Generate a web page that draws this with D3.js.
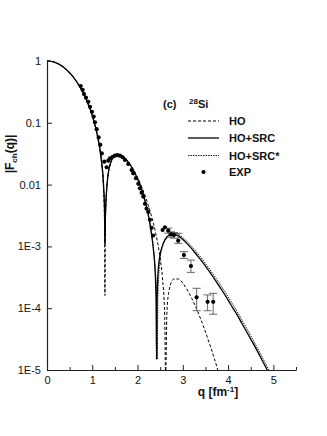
<!DOCTYPE html>
<html><head><meta charset="utf-8">
<script src="https://cdn.jsdelivr.net/npm/d3@7"></script>
<style>
body{margin:0;background:#fff}
svg{display:block}
text{font-family:"Liberation Sans",Arial,Helvetica,sans-serif;fill:#111}
</style></head>
<body><svg id="chart" width="327" height="436"></svg>
<script>
// ---- data ----
const qHO = [0,0.1,0.2,0.3,0.4,0.5,0.6,0.7,0.8,0.9,1.0,1.1,1.15,1.2,1.25,1.27,1.28,1.29,1.3,1.35,1.4,1.5,1.6,1.7,1.8,1.9,2.0,2.1,2.2,2.3,2.4,2.5,2.55,2.6,2.62,2.65,2.7,2.8,2.9,3.0,3.1,3.2,3.3,3.4,3.5,3.6,3.7,3.8];
const fHO = [1,0.983,0.9335,0.8558,0.7563,0.643,0.524,0.4075,0.2997,0.2056,0.1281,0.0678,0.0441,0.02428,0.00816,0.00267,0.00016,0.00229,0.00459,0.01432,0.0214,0.02907,0.0304,0.02782,0.02323,0.01802,0.01309,0.00889,0.00562,0.00324,0.00164,0.000639,0.000312,0.0000751,0.000008,0.0000903,0.000199,0.000296,0.000297,0.000254,0.000197,0.000143,0.0000988,0.0000651,0.0000413,0.0000252,0.000015,0.0000086];

const qSRC = [0,0.1,0.2,0.3,0.4,0.5,0.6,0.7,0.8,0.9,1.0,1.1,1.15,1.2,1.25,1.27,1.28,1.29,1.3,1.35,1.4,1.5,1.6,1.7,1.8,1.9,2.0,2.1,2.2,2.25,2.3,2.35,2.38,2.4,2.41,2.42,2.43,2.45,2.5,2.55,2.6,2.65,2.7,2.75,2.8,2.85,2.9,3.0,3.1,3.2,3.3,3.4,3.5,3.6,3.7,3.8,3.9,4.0,4.1,4.2,4.3,4.4,4.5,4.6,4.7,4.8,4.9];
const fSRC = [1,0.983,0.934,0.857,0.758,0.645,0.527,0.411,0.303,0.209,0.131,0.07,0.0458,0.0256,0.0095,0.004,0.0011,0.003,0.0048,0.0147,0.0218,0.0292,0.0303,0.0276,0.0228,0.0174,0.0123,0.0079,0.0043,0.0029,0.00175,0.0009,0.0005,0.00025,0.00012,0.000015,0.00012,0.00035,0.00075,0.00102,0.00125,0.0014,0.00152,0.00158,0.00158,0.00154,0.00148,0.00129,0.0011,0.00091,0.00074,0.0006,0.00048,0.00038,0.000295,0.00023,0.000178,0.000135,0.000102,0.000078,0.0000575,0.0000427,0.0000316,0.0000234,0.000017,0.0000123,0.0000089];

const qSRCs = [0,0.1,0.2,0.3,0.4,0.5,0.6,0.7,0.8,0.9,1.0,1.1,1.15,1.2,1.25,1.27,1.28,1.29,1.3,1.35,1.4,1.5,1.6,1.7,1.8,1.9,2.0,2.1,2.2,2.3,2.35,2.38,2.4,2.42,2.435,2.45,2.5,2.55,2.6,2.65,2.7,2.75,2.8,2.85,2.9,3.0,3.1,3.2,3.3,3.4,3.5,3.6,3.7,3.8,3.9,4.0,4.1,4.2,4.3,4.4,4.5,4.6,4.7,4.8,4.9,4.95];
const fSRCs = [1,0.983,0.934,0.857,0.758,0.645,0.527,0.411,0.303,0.209,0.131,0.07,0.0458,0.0256,0.0095,0.004,0.0011,0.003,0.0048,0.0147,0.0218,0.0292,0.0304,0.0278,0.0231,0.0177,0.0126,0.0082,0.0045,0.00178,0.00095,0.00057,0.00034,0.00015,0.000015,0.00016,0.00064,0.001,0.00127,0.00147,0.0016,0.00166,0.00167,0.00164,0.00158,0.00139,0.00119,0.00099,0.00081,0.00066,0.00053,0.00042,0.00033,0.000258,0.0002,0.000153,0.000116,0.000088,0.0000655,0.0000485,0.0000358,0.0000264,0.0000192,0.0000139,0.00001,0.0000085];

const expQ = [0.744,0.788,0.817,0.861,0.912,0.949,0.993,1.031,1.06,1.097,1.141,1.177,1.21,1.265,1.318,1.354,1.391,1.45,1.501,1.553,1.611,1.67,1.722,1.795,1.869,1.906,1.965,2.017,2.053,2.09,2.127,2.163,2.2,2.237,2.274,2.311,2.347,2.554,2.605,2.678,2.737,2.804,2.898,3.024,3.179,3.305,3.547,3.671];
const expF = [0.394,0.34,0.292,0.255,0.219,0.182,0.151,0.126,0.102,0.079,0.058,0.044,0.032,0.0235,0.0191,0.0244,0.0266,0.0282,0.0294,0.030,0.0294,0.0277,0.025,0.0216,0.0172,0.0152,0.0127,0.0103,0.0087,0.0074,0.0064,0.0049,0.0041,0.0036,0.0027,0.002,0.0015,0.00184,0.00204,0.0018,0.00157,0.00153,0.00124,0.000726,0.000482,0.00015,0.000127,0.000127];
const errQ  = [2.678,2.737,2.804,2.898,3.024,3.179,3.305,3.547,3.671];
const errLo = [0.00164,0.00141,0.00136,0.00112,0.00064,0.00038,0.000091,0.000091,0.00008];
const errHi = [0.00197,0.00172,0.00168,0.00163,0.00082,0.0006,0.00021,0.000164,0.000174];

const xTicks = [0,0.5,1,1.5,2,2.5,3,3.5,4,4.5,5,5.5];
const yTicks = [1,0.1,0.01,1e-3,1e-4,1e-5];
const yTickLabels = ["1","0.1","0.01","1E-3","1E-4","1E-5"];
const legendNames = ["HO","HO+SRC","HO+SRC*","EXP"];

// ---- drawing ----
const svg = d3.select("#chart");
const L = 47, R = 296, T = 61, B = 370;
const x = d3.scaleLinear().domain([0,5.5]).range([L,R]);
const y = d3.scaleLog().domain([1e-5,1]).range([B,T]);

svg.append("defs").append("clipPath").attr("id","clip")
  .append("rect").attr("x",L).attr("y",T-2).attr("width",R-L+2).attr("height",B-T+2);

const line = d3.line().x(d=>x(d[0])).y(d=>y(d[1])).curve(d3.curveMonotoneX);
const plot = svg.append("g").attr("clip-path","url(#clip)");

plot.append("path").datum(d3.zip(qHO,fHO)).attr("d",line)
  .attr("fill","none").attr("stroke","#000").attr("stroke-width",1).attr("stroke-dasharray","3,2");
plot.append("path").datum(d3.zip(qSRCs,fSRCs)).attr("d",line)
  .attr("fill","none").attr("stroke","#000").attr("stroke-width",0.9).attr("stroke-dasharray","1.5,1");
plot.append("path").datum(d3.zip(qSRC,fSRC)).attr("d",line)
  .attr("fill","none").attr("stroke","#000").attr("stroke-width",1.3);

// error bars
const eb = plot.append("g").attr("stroke","#555").attr("stroke-width",0.9);
errQ.forEach((q,i)=>{
  const cx = x(q);
  eb.append("line").attr("x1",cx).attr("x2",cx).attr("y1",y(errLo[i])).attr("y2",y(errHi[i]));
  eb.append("line").attr("x1",cx-4).attr("x2",cx+4).attr("y1",y(errLo[i])).attr("y2",y(errLo[i]));
  eb.append("line").attr("x1",cx-4).attr("x2",cx+4).attr("y1",y(errHi[i])).attr("y2",y(errHi[i]));
});
plot.append("g").selectAll("circle").data(d3.zip(expQ,expF)).join("circle")
  .attr("cx",d=>x(d[0])).attr("cy",d=>y(d[1])).attr("r",2.1).attr("fill","#000");

// axes
const xAxis = svg.append("g").attr("transform",`translate(0,${B})`)
  .call(d3.axisBottom(x).tickValues(xTicks).tickSizeInner(-5).tickSizeOuter(0).tickPadding(6)
        .tickFormat(d=>Number.isInteger(d)?String(d):""));
xAxis.selectAll(".tick line").attr("y2",d=>Number.isInteger(d)?-5:-3);
const yAxis = svg.append("g").attr("transform",`translate(${L},0)`)
  .call(d3.axisLeft(y).tickValues(yTicks).tickSizeInner(-5).tickSizeOuter(0).tickPadding(6)
        .tickFormat((d,i)=>yTickLabels[i]));
[xAxis,yAxis].forEach(a=>{
  a.select(".domain").attr("stroke","#222").attr("stroke-width",1.2);
  a.selectAll(".tick line").attr("stroke","#222").attr("stroke-width",1);
  a.selectAll("text").attr("font-size",11).attr("font-family","Liberation Sans, Arial, sans-serif").attr("fill","#111");
});

// axis titles
const xt = svg.append("text").attr("x",218).attr("y",396).attr("text-anchor","middle")
  .attr("font-size",12).attr("font-weight","bold");
xt.append("tspan").text("q [fm");
xt.append("tspan").attr("font-size",8).attr("dy",-4).text("-1");
xt.append("tspan").attr("dy",4).text("]");

const yt = svg.append("text").attr("transform","translate(14,154) rotate(-90)").attr("text-anchor","middle")
  .attr("font-size",12).attr("font-weight","bold");
yt.append("tspan").text("|F");
yt.append("tspan").attr("font-size",8).attr("dy",3).text("ch");
yt.append("tspan").attr("dy",-3).text("(q)|");

// legend
const lg = svg.append("g").attr("font-weight","bold").attr("font-size",11);
const t0 = lg.append("text").attr("x",163).attr("y",108);
t0.append("tspan").text("(c)");
t0.append("tspan").attr("x",189).attr("font-size",8).attr("dy",-4).text("28");
t0.append("tspan").attr("dy",4).text("Si");
const rowY = [121,138,155.5,172];
const styles = [{dash:"3,2",w:1},{dash:null,w:1.3},{dash:"1.5,1",w:0.9}];
legendNames.forEach((name,i)=>{
  if(i<3){
    lg.append("line").attr("x1",188).attr("x2",219).attr("y1",rowY[i]).attr("y2",rowY[i])
      .attr("stroke","#000").attr("stroke-width",styles[i].w).attr("stroke-dasharray",styles[i].dash);
  } else {
    lg.append("circle").attr("cx",203.5).attr("cy",rowY[i]).attr("r",2.1).attr("fill","#000");
  }
  lg.append("text").attr("x",229).attr("y",rowY[i]+4).text(name);
});
</script></body></html>
